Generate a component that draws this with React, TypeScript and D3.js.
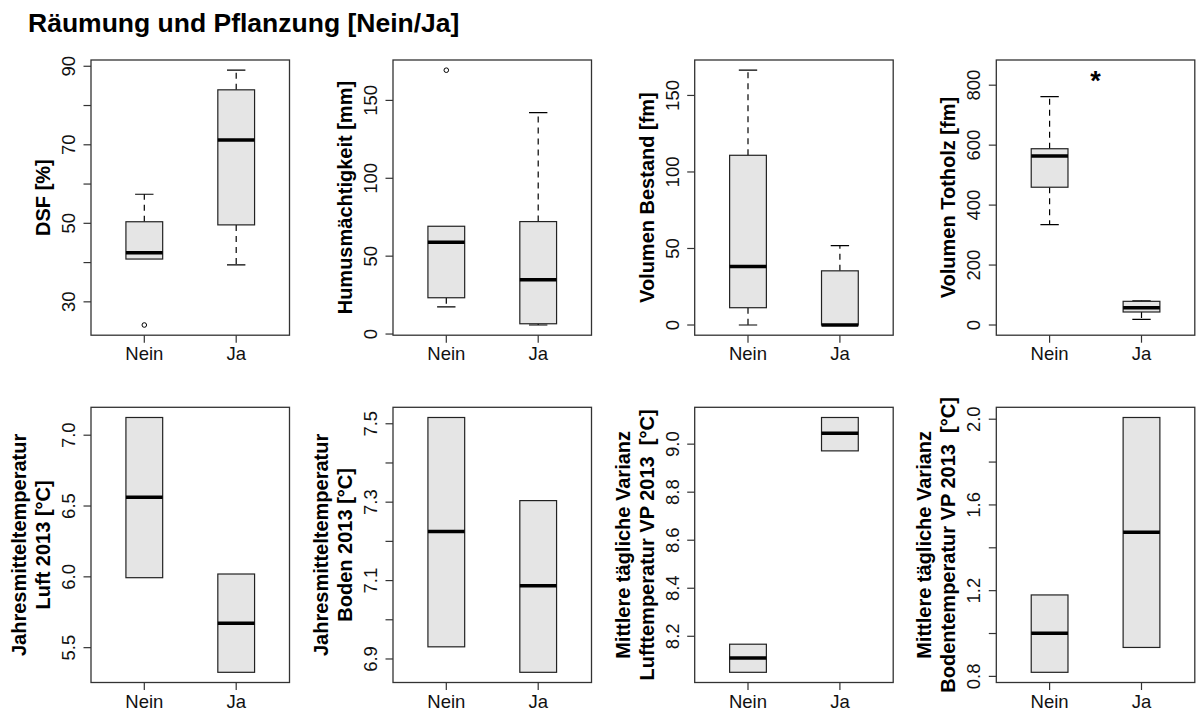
import React from "react";
import * as d3 from "d3";

// Group labels on the x axis
const groups = ["Nein", "Ja"];

// Box statistics per group: [lower whisker, Q1, median, Q3, upper whisker]
const dsfStats = [
  [40.9, 40.9, 42.5, 50.4, 57.4],
  [39.4, 49.6, 71.2, 84.0, 89.0],
];
const dsfOutliers = [[24.1], []];

const humusStats = [
  [17.4, 23.3, 58.9, 69.2, 69.2],
  [5.8, 6.6, 34.9, 72.2, 142.2],
];
const humusOutliers = [[169.4], []];

const bestandStats = [
  [0, 11.3, 38.2, 110.9, 166.5],
  [0, 0, 0, 35.4, 51.9],
];

const totholzStats = [
  [334.8, 459.6, 564, 588, 762],
  [19, 43.4, 57.7, 79, 81],
];
const totholzLimits = [0, 850];
const totholzSignifY = 828;

const luftStats = [
  [5.994, 5.994, 6.562, 7.125, 7.125],
  [5.326, 5.326, 5.673, 6.02, 6.02],
];
const bodenStats = [
  [6.931, 6.931, 7.225, 7.516, 7.516],
  [6.866, 6.866, 7.087, 7.304, 7.304],
];
const varLuftStats = [
  [8.05, 8.05, 8.11, 8.167, 8.167],
  [8.972, 8.972, 9.045, 9.111, 9.111],
];
const varBodenStats = [
  [0.819, 0.819, 1.001, 1.18, 1.18],
  [0.935, 0.935, 1.472, 2.008, 2.008],
];

// Axis ticks (all tick marks) and the subset that carries a label
const dsfTicks = [30, 40, 50, 60, 70, 80, 90];
const dsfTickLabels = [30, 50, 70, 90];
const humusTicks = [0, 50, 100, 150];
const bestandTicks = [0, 50, 100, 150];
const totholzTicks = [0, 200, 400, 600, 800];
const luftTicks = [5.5, 6.0, 6.5, 7.0];
const bodenTicks = [6.9, 7.0, 7.1, 7.2, 7.3, 7.4, 7.5];
const bodenTickLabels = [6.9, 7.1, 7.3, 7.5];
const varLuftTicks = [8.2, 8.4, 8.6, 8.8, 9.0];
const varBodenTicks = [0.8, 1.0, 1.2, 1.4, 1.6, 1.8, 2.0];
const varBodenTickLabels = [0.8, 1.2, 1.6, 2.0];

const title = "Räumung und Pflanzung [Nein/Ja]";

type Panel = {
  stats: number[][];
  outliers?: number[][];
  ticks: number[];
  labeled?: number[];
  decimals: number;
  ylabel: string[];
  limits?: number[];
  signif?: { y: number; text: string };
};

const panels: Panel[] = [
  { stats: dsfStats, outliers: dsfOutliers, ticks: dsfTicks, labeled: dsfTickLabels, decimals: 0, ylabel: ["DSF [%]"] },
  { stats: humusStats, outliers: humusOutliers, ticks: humusTicks, decimals: 0, ylabel: ["Humusmächtigkeit [mm]"] },
  { stats: bestandStats, ticks: bestandTicks, decimals: 0, ylabel: ["Volumen Bestand [fm]"] },
  {
    stats: totholzStats, ticks: totholzTicks, decimals: 0, ylabel: ["Volumen Totholz [fm]"],
    limits: totholzLimits, signif: { y: totholzSignifY, text: "*" },
  },
  { stats: luftStats, ticks: luftTicks, decimals: 1, ylabel: ["Jahresmitteltemperatur", "Luft 2013 [°C]"] },
  { stats: bodenStats, ticks: bodenTicks, labeled: bodenTickLabels, decimals: 1, ylabel: ["Jahresmitteltemperatur", "Boden 2013 [°C]"] },
  { stats: varLuftStats, ticks: varLuftTicks, decimals: 1, ylabel: ["Mittlere tägliche Varianz", "Lufttemperatur VP 2013  [°C]"] },
  { stats: varBodenStats, ticks: varBodenTicks, labeled: varBodenTickLabels, decimals: 1, ylabel: ["Mittlere tägliche Varianz", "Bodentemperatur VP 2013  [°C]"] },
];

const W = 1196;
const H = 711;
const colLeft = [91, 393, 694.7, 996.3];
const rowTop = [60, 407.3];
const plotW = 198.5;
const plotH = 275.2;
const FONT = "'Liberation Sans', Arial, Helvetica, sans-serif";
const FRAME = "#333";
const TICK = 7.5;

// R-style range: extend the data range by 4% on each side
function paddedDomain(p: Panel): [number, number] {
  let lo: number, hi: number;
  if (p.limits) {
    [lo, hi] = p.limits;
  } else {
    const vals = p.stats.flat().concat((p.outliers || []).flat());
    lo = d3.min(vals)!;
    hi = d3.max(vals)!;
  }
  const pad = (hi - lo) * 0.04;
  return [lo - pad, hi + pad];
}

function BoxPanel({ p, left, top }: { p: Panel; left: number; top: number }) {
  const x = d3.scaleLinear().domain([0.42, 2.58]).range([left, left + plotW]);
  const y = d3.scaleLinear().domain(paddedDomain(p)).range([top + plotH, top]);
  const halfBox = x(1.2) - x(1);
  const halfStaple = x(1.1) - x(1);
  const labeled = p.labeled || p.ticks;
  const bottom = top + plotH;
  const clipId = `clip-${left}-${top}`.replace(/\./g, "_");
  const labelCenterY = top + plotH / 2;
  const lines = p.ylabel;

  return (
    <g>
      <defs>
        <clipPath id={clipId}>
          <rect x={left} y={top} width={plotW} height={plotH} />
        </clipPath>
      </defs>
      <g clipPath={`url(#${clipId})`}>
        {p.stats.map((s, i) => {
          const cx = x(i + 1);
          const [lw, q1, med, q3, uw] = s;
          return (
            <g key={i}>
              {/* whiskers */}
              {uw > q3 && (
                <>
                  <line x1={cx} x2={cx} y1={y(q3)} y2={y(uw)} stroke="#000" strokeWidth={1.2} strokeDasharray="6,5" />
                  <line x1={cx - halfStaple} x2={cx + halfStaple} y1={y(uw)} y2={y(uw)} stroke="#000" strokeWidth={1.2} />
                </>
              )}
              {lw < q1 && (
                <>
                  <line x1={cx} x2={cx} y1={y(q1)} y2={y(lw)} stroke="#000" strokeWidth={1.2} strokeDasharray="6,5" />
                  <line x1={cx - halfStaple} x2={cx + halfStaple} y1={y(lw)} y2={y(lw)} stroke="#000" strokeWidth={1.2} />
                </>
              )}
              <rect
                x={cx - halfBox}
                y={y(q3)}
                width={2 * halfBox}
                height={Math.max(0, y(q1) - y(q3))}
                fill="#e5e5e5"
                stroke="#222"
                strokeWidth={1.2}
              />
              <line x1={cx - halfBox} x2={cx + halfBox} y1={y(med)} y2={y(med)} stroke="#000" strokeWidth={3.5} />
              {(p.outliers?.[i] || []).map((o, j) => (
                <circle key={j} cx={cx} cy={y(o)} r={2.3} fill="none" stroke="#000" strokeWidth={1} />
              ))}
            </g>
          );
        })}
        {p.signif && (
          <text x={x(1.5)} y={y(p.signif.y) + 13} textAnchor="middle" fontFamily={FONT} fontWeight="bold" fontSize={27}>
            {p.signif.text}
          </text>
        )}
      </g>
      {/* frame */}
      <rect x={left} y={top} width={plotW} height={plotH} fill="none" stroke={FRAME} strokeWidth={1.3} />
      {/* y axis */}
      {p.ticks.map((t) => (
        <line key={t} x1={left - TICK} x2={left} y1={y(t)} y2={y(t)} stroke={FRAME} strokeWidth={1.2} />
      ))}
      {labeled.map((t) => (
        <text
          key={t}
          transform={`translate(${left - 16},${y(t)}) rotate(-90)`}
          textAnchor="middle"
          fontFamily={FONT}
          fontSize={18.5}
          fill="#111"
        >
          {d3.format(`.${p.decimals}f`)(t)}
        </text>
      ))}
      {/* x axis */}
      {groups.map((g, i) => (
        <g key={g}>
          <line x1={x(i + 1)} x2={x(i + 1)} y1={bottom} y2={bottom + TICK} stroke={FRAME} strokeWidth={1.2} />
          <text x={x(i + 1)} y={bottom + 25} textAnchor="middle" fontFamily={FONT} fontSize={18.5} fill="#111">
            {g}
          </text>
        </g>
      ))}
      {/* y label */}
      {lines.map((ln, k) => {
        const bx = left - 41 - (lines.length - 1 - k) * 24;
        return (
          <text
            key={k}
            transform={`translate(${bx},${labelCenterY}) rotate(-90)`}
            textAnchor="middle"
            fontFamily={FONT}
            fontWeight="bold"
            fontSize={20}
            style={{ whiteSpace: "pre" }}
          >
            {ln}
          </text>
        );
      })}
    </g>
  );
}

export default function App() {
  return (
    <svg
      width={W}
      height={H}
      viewBox={`0 0 ${W} ${H}`}
      style={{ position: "absolute", left: 0, top: 0, background: "#fff" }}
    >
      <rect width={W} height={H} fill="#fff" />
      <text x={28} y={32} fontFamily={FONT} fontWeight="bold" fontSize={26.5}>
        {title}
      </text>
      {panels.map((p, i) => (
        <BoxPanel key={i} p={p} left={colLeft[i % 4]} top={rowTop[Math.floor(i / 4)]} />
      ))}
    </svg>
  );
}
